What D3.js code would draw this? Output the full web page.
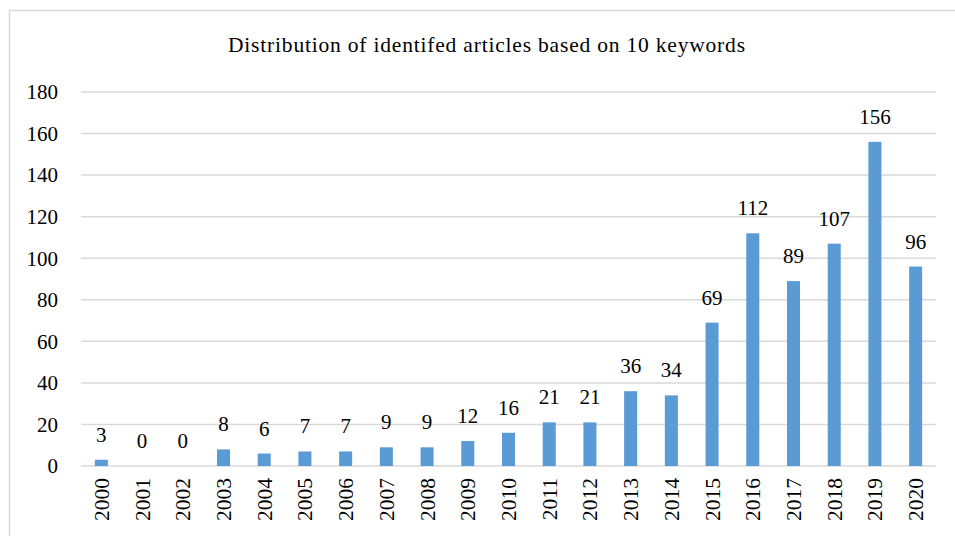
<!DOCTYPE html>
<html><head><meta charset="utf-8">
<script src="https://cdn.jsdelivr.net/npm/d3@7"></script>
<style>body{margin:0;background:#fff}svg{display:block}text{font-family:"Liberation Serif","Times New Roman",serif;fill:#000}</style>
</head><body><svg id="c" width="955" height="536"></svg>
<script>
const years = ["2000","2001","2002","2003","2004","2005","2006","2007","2008","2009","2010","2011","2012","2013","2014","2015","2016","2017","2018","2019","2020"];
const counts = [3,0,0,8,6,7,7,9,9,12,16,21,21,36,34,69,112,89,107,156,96];
const yTicks = [0,20,40,60,80,100,120,140,160,180];
const title = "Distribution of identifed articles based on 10 keywords";

const svg = d3.select("#c");
svg.append("rect").attr("x",9.5).attr("y",10.5).attr("width",960).attr("height",560)
  .attr("fill","#fff").attr("stroke","#d9d9d9").attr("stroke-width",1.5);

const x = d3.scaleBand().domain(years).range([81,936]).paddingInner(0.68).paddingOuter(0.34);
const y = d3.scaleLinear().domain([0,180]).range([466,92]);

svg.append("text").attr("x",486.5).attr("y",52).attr("text-anchor","middle")
  .attr("textLength",517).attr("lengthAdjust","spacing")
  .style("font-size","21.5px").text(title);

const g = svg.append("g");
g.selectAll("line.grid").data(yTicks).join("line").attr("class","grid")
  .attr("x1",81).attr("x2",936).attr("y1",d=>y(d)).attr("y2",d=>y(d))
  .attr("stroke","#d9d9d9").attr("stroke-width",1.5);

g.selectAll("text.yl").data(yTicks).join("text").attr("class","yl")
  .attr("x",58).attr("y",d=>y(d)).attr("text-anchor","end").attr("dy","0.35em")
  .style("font-size","21px").text(d=>d);

g.selectAll("rect.bar").data(counts).join("rect").attr("class","bar")
  .attr("x",(d,i)=>x(years[i])).attr("width",x.bandwidth())
  .attr("y",d=>y(d)).attr("height",d=>y(0)-y(d)).attr("fill","#5b9bd5");

g.selectAll("text.vl").data(counts).join("text").attr("class","vl")
  .attr("x",(d,i)=>x(years[i])+x.bandwidth()/2).attr("y",d=>y(d)-18)
  .attr("text-anchor","middle").style("font-size","21px").text(d=>d);

g.selectAll("text.xl").data(years).join("text").attr("class","xl")
  .attr("transform",d=>`translate(${x(d)+x.bandwidth()/2},478) rotate(-90)`)
  .attr("text-anchor","end").attr("dy","0.35em").style("font-size","21.5px").text(d=>d);
</script></body></html>
